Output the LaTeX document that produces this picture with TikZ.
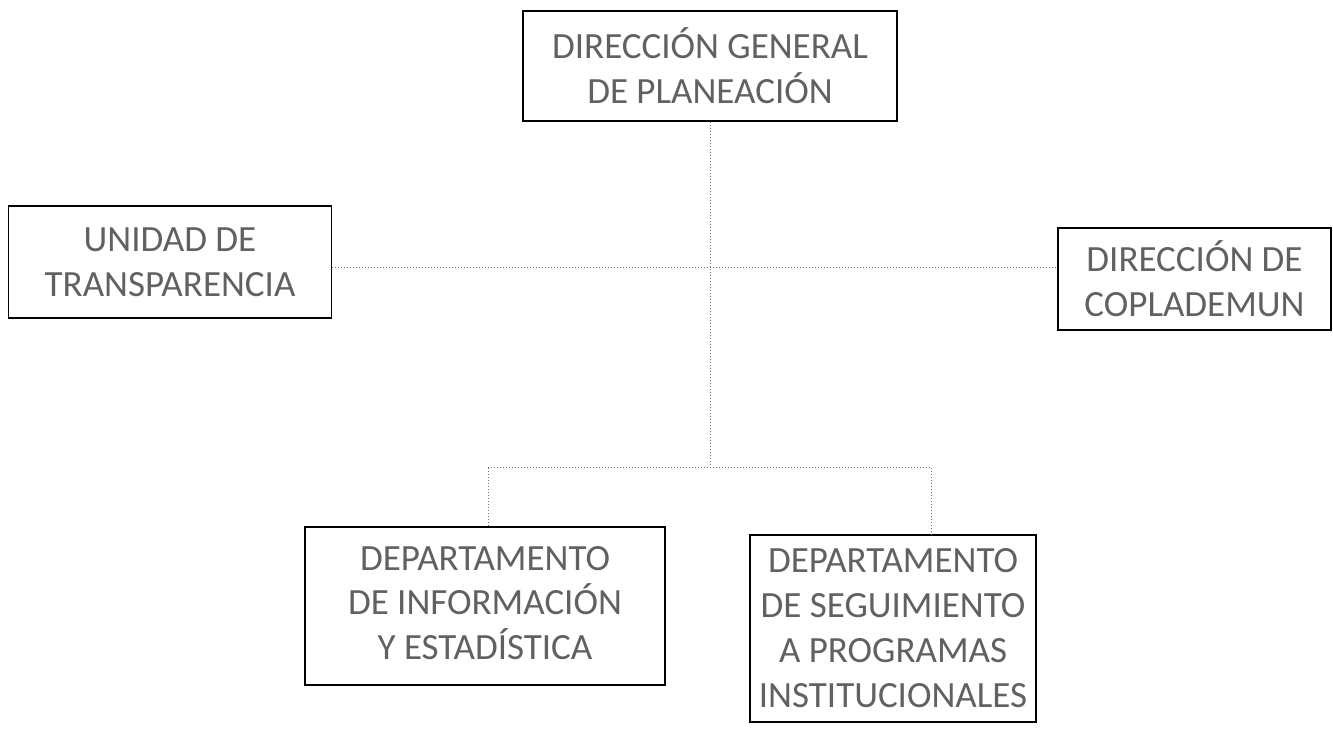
\documentclass[tikz,border=0pt]{standalone}
\usepackage{fontspec}
\setmainfont{Carlito}
\begin{document}
\begin{tikzpicture}[x=0.5pt,y=-0.5pt,
  box/.style={draw=black, line width=0.9pt, align=center, inner sep=0pt,
    text=black!62, font=\fontsize{18.5}{22.5}\selectfont},
  link/.style={draw=black!55, line width=0.5pt, densely dotted}]
\useasboundingbox (0,0) rectangle (1333,731);
\node[box, minimum width=187pt, minimum height=55pt] (top) at (710,66)
  {DIRECCIÓN GENERAL\\DE PLANEACIÓN};
\node[box, minimum width=161.5pt, minimum height=56pt] (ut) at (170,262)
  {UNIDAD DE\\TRANSPARENCIA};
\node[box, minimum width=136.5pt, minimum height=51pt] (dc) at (1194.5,279)
  {DIRECCIÓN DE\\COPLADEMUN};
\node[box, minimum width=180pt, minimum height=79pt] (dl) at (485,606)
  {\raisebox{3pt}{\begin{tabular}{@{}c@{}}DEPARTAMENTO\\DE INFORMACIÓN\\Y ESTADÍSTICA\end{tabular}}};
\node[box, minimum width=143pt, minimum height=93.5pt] (dr) at (893,628.5)
  {DEPARTAMENTO\\DE SEGUIMIENTO\\A PROGRAMAS\\INSTITUCIONALES};
\coordinate (j1) at (710,268);
\coordinate (j2) at (710,468);
\coordinate (jl) at (488,468);
\coordinate (jr) at (931,468);
\draw[link] (top.south) -- (j2);
\draw[link] (ut.east |- j1) -- (dc.west |- j1);
\draw[link] (jl) -- (jr);
\draw[link] (jl) -- (jl |- dl.north);
\draw[link] (jr) -- (jr |- dr.north);
\end{tikzpicture}
\end{document}
